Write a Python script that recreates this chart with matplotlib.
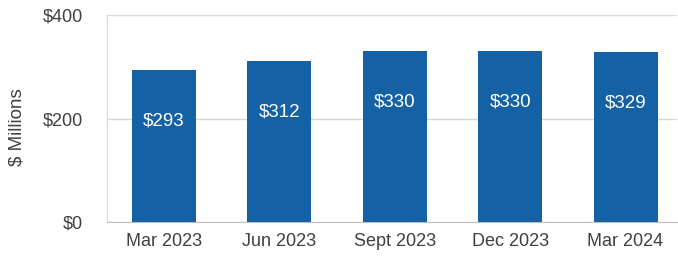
import matplotlib
matplotlib.use("Agg")
import matplotlib.pyplot as plt

categories = ["Mar 2023", "Jun 2023", "Sept 2023", "Dec 2023", "Mar 2024"]
values = [293, 312, 330, 330, 329]
value_labels = ["$293", "$312", "$330", "$330", "$329"]
yticks = [0, 200, 400]
ytick_labels = ["$0", "$200", "$400"]

plt.rcParams['font.family'] = ['Liberation Sans', 'DejaVu Sans']

fig = plt.figure(figsize=(6.78, 2.57), dpi=100)
ax = fig.add_axes([107/678, 1-222/257, 570/678, 207/257])

x = list(range(len(categories)))
bars = ax.bar(x, values, width=0.554, color='#1461A5', zorder=3)

for xi, v, lab in zip(x, values, value_labels):
    ax.annotate(lab, xy=(xi, v), xytext=(0, -51), textcoords='offset pixels',
                ha='center', va='center', color='white', fontsize=13.5, zorder=4)

ax.set_xlim(-0.494, 4.446)
ax.set_ylim(0, 400)
ax.set_yticks(yticks)
ax.set_yticklabels(ytick_labels)
ax.set_xticks(x)
ax.set_xticklabels(categories)
ax.tick_params(axis='both', length=0, labelsize=13, labelcolor='#404040')
ax.tick_params(axis='y', pad=17)
ax.tick_params(axis='x', pad=8)
ax.grid(axis='y', color='#d9d9d9', linewidth=1, zorder=0)
for s in ['top', 'right']:
    ax.spines[s].set_visible(False)
ax.spines['left'].set_color('#d9d9d9')
ax.spines['bottom'].set_color('#bfbfbf')
ax.set_ylabel("$ Millions", fontsize=13.5, color='#404040', va='center')
ax.yaxis.set_label_coords(-(107-17)/570, (222-127)/207)

fig.savefig("out.png", dpi=100)
